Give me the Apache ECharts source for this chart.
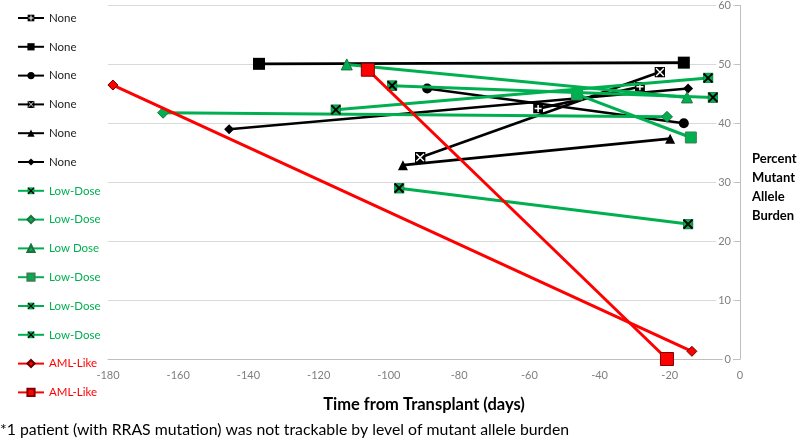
<!DOCTYPE html>
<html>
<head>
<meta charset="utf-8">
<script src="https://cdn.jsdelivr.net/npm/echarts@6/dist/echarts.min.js"></script>
<style>
  html, body { margin: 0; padding: 0; background: #fff; }
  #allele_charts { width: 800px; height: 440px; }
</style>
</head>
<body>
<div id="allele_charts"></div>
<script>
// axis ticks
const xTicks = [-180, -160, -140, -120, -100, -80, -60, -40, -20, 0];
const yTicks = [0, 10, 20, 30, 40, 50, 60];

// each patient: [days from transplant, percent mutant allele burden]
const nonePlusSquare = [[-57.5, 42.5], [-28.5, 46.2]];
const noneSquare = [[-137, 50.1], [-16, 50.3]];
const noneCircle = [[-89.1, 45.9], [-16, 40.0]];
const noneXBox = [[-91.1, 34.2], [-22.8, 48.7]];
const noneTriangle = [[-96, 32.9], [-19.9, 37.4]];
const noneDiamond = [[-145.5, 39.0], [-14.8, 45.9]];
const lowXBox1 = [[-97.1, 29.0], [-14.8, 22.9]];
const lowDiamond = [[-164.3, 41.8], [-20.8, 41.1]];
const lowTriangle = [[-112, 50.0], [-15.1, 44.4]];
const lowSquare = [[-46.4, 44.9], [-14, 37.6]];
const lowXBox2 = [[-115.1, 42.3], [-9.1, 47.7]];
const lowXBox3 = [[-99.1, 46.4], [-7.7, 44.4]];
const amlDiamond = [[-178.6, 46.5], [-13.7, 1.3]];
const amlSquare = [[-106, 49.1], [-20.8, 0]];

const legendNames = ['None', 'None', 'None', 'None', 'None', 'None',
  'Low-Dose', 'Low-Dose', 'Low Dose', 'Low-Dose', 'Low-Dose', 'Low-Dose',
  'AML-Like', 'AML-Like'];

const BLACK = '#000000', GREEN = '#00B050', RED = '#FF0000';

function svgIcon (svg) {
  return 'image://data:image/svg+xml;charset=utf-8,' + encodeURIComponent(svg);
}
const plusSquareIcon = svgIcon("<svg xmlns='http://www.w3.org/2000/svg' width='20' height='20'><rect width='20' height='20' fill='#000'/><path d='M10 3V17M3 10H17' stroke='#fff' stroke-width='3'/></svg>");
const blackXIcon = svgIcon("<svg xmlns='http://www.w3.org/2000/svg' width='20' height='20'><rect width='20' height='20' fill='#000'/><path d='M3 3L17 17M17 3L3 17' stroke='#fff' stroke-width='2.5'/></svg>");
const greenXIcon = svgIcon("<svg xmlns='http://www.w3.org/2000/svg' width='20' height='20'><rect x='1' y='1' width='18' height='18' fill='#00B050' stroke='#1f6f3f' stroke-width='1.5'/><path d='M2 2L18 18M18 2L2 18' stroke='#000' stroke-width='3.5'/></svg>");

function makeSeries (idx, data, color, symbol, size, border) {
  return {
    name: legendNames[idx] + '#' + idx,
    type: 'line',
    data: data,
    symbol: symbol,
    symbolSize: size,
    showSymbol: true,
    lineStyle: { color: color, width: color === BLACK ? 2.6 : 3 },
    itemStyle: { color: color, borderColor: border || color, borderWidth: border ? 1 : 0 },
    emphasis: { disabled: true },
    animation: false,
    z: 2 + idx
  };
}

const seriesList = [
  makeSeries(0, nonePlusSquare, BLACK, plusSquareIcon, 10),
  makeSeries(1, noneSquare, BLACK, 'rect', 12),
  makeSeries(2, noneCircle, BLACK, 'circle', 10),
  makeSeries(3, noneXBox, BLACK, blackXIcon, 11),
  makeSeries(4, noneTriangle, BLACK, 'triangle', 10),
  makeSeries(5, noneDiamond, BLACK, 'diamond', 10),
  makeSeries(6, lowXBox1, GREEN, greenXIcon, 11),
  makeSeries(7, lowDiamond, GREEN, 'diamond', 11, '#1f6f3f'),
  makeSeries(8, lowTriangle, GREEN, 'triangle', 11, '#1f6f3f'),
  makeSeries(9, lowSquare, GREEN, 'rect', 11, '#3d7f55'),
  makeSeries(10, lowXBox2, GREEN, greenXIcon, 11),
  makeSeries(11, lowXBox3, GREEN, greenXIcon, 11),
  makeSeries(12, amlDiamond, RED, 'diamond', 10, '#600000'),
  makeSeries(13, amlSquare, RED, 'rect', 13, '#800000')
];

const legendColors = legendNames.map(n => n === 'None' ? '#222' : (n === 'AML-Like' ? RED : GREEN));

const option = {
  backgroundColor: '#fff',
  textStyle: { fontFamily: 'Lato, "Open Sans", sans-serif' },
  grid: { left: 108, right: 60, top: 4, bottom: 81 },
  legend: {
    orient: 'vertical',
    left: 12,
    top: 7,
    itemWidth: 26,
    itemHeight: 9,
    itemGap: 16.8,
    selectedMode: false,
    data: legendNames.map((n, i) => ({ name: n + '#' + i, textStyle: { color: legendColors[i] } })),
    formatter: name => name.split('#')[0],
    textStyle: { fontSize: 11.5, lineHeight: 12 }
  },
  xAxis: {
    type: 'value',
    min: xTicks[0],
    max: xTicks[xTicks.length - 1],
    interval: 20,
    name: 'Time from Transplant (days)',
    nameLocation: 'middle',
    nameGap: 37,
    nameTextStyle: { fontSize: 16.5, fontWeight: 'bold', color: '#000', fontFamily: 'Lato, sans-serif' },
    axisLine: { lineStyle: { color: '#bfbfbf', width: 1 } },
    axisTick: { show: false },
    axisLabel: { color: '#7f7f7f', fontSize: 11, margin: 11 },
    splitLine: { show: false }
  },
  yAxis: {
    type: 'value',
    position: 'right',
    min: yTicks[0],
    max: yTicks[yTicks.length - 1],
    interval: 10,
    axisLine: { show: true, lineStyle: { color: '#bfbfbf', width: 1 } },
    axisTick: { show: true, inside: true, length: 5, lineStyle: { color: '#bfbfbf' } },
    axisLabel: { inside: true, margin: 7, color: '#7f7f7f', fontSize: 11, backgroundColor: '#fff', padding: [0, 2] },
    splitLine: { show: true, lineStyle: { color: '#d9d9d9', width: 1 } }
  },
  graphic: [
    {
      type: 'text',
      left: 752,
      top: 149,
      style: {
        text: 'Percent\nMutant\nAllele\nBurden',
        fontSize: 13,
        fontWeight: 'bold',
        lineHeight: 19,
        fill: '#000',
        fontFamily: 'Lato, sans-serif'
      }
    },
    {
      type: 'text',
      left: 0,
      top: 422,
      style: {
        text: '*1 patient (with RRAS mutation) was not trackable by level of mutant allele burden',
        fontSize: 15.8,
        fill: '#000',
        fontFamily: 'Lato, sans-serif'
      }
    }
  ],
  series: seriesList
};

const allele_charts = echarts.init(document.getElementById('allele_charts'));
allele_charts.setOption(option);
</script>
</body>
</html>
